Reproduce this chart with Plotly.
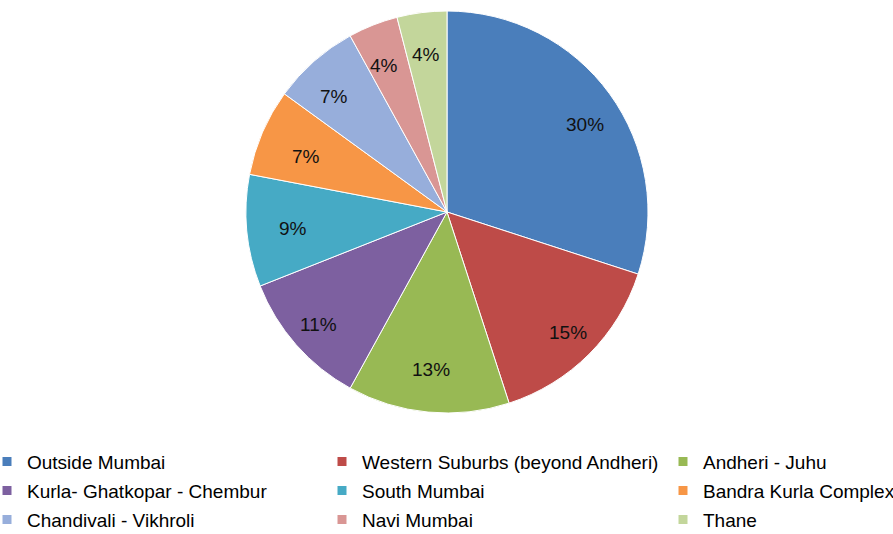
import math
import plotly.graph_objects as go

# Share of respondents by location
locations = [
    "Outside Mumbai",
    "Western Suburbs (beyond Andheri)",
    "Andheri - Juhu",
    "Kurla- Ghatkopar - Chembur",
    "South Mumbai",
    "Bandra Kurla Complex",
    "Chandivali - Vikhroli",
    "Navi Mumbai",
    "Thane",
]
shares = [30, 15, 13, 11, 9, 7, 7, 4, 4]
colors = [
    "#4A7EBB", "#BE4B48", "#98B954", "#7D60A0", "#46AAC5",
    "#F79646", "#97AEDB", "#D99694", "#C3D69B",
]

W, H = 893, 534
cx, cy, r = 447, 212, 201          # pie centre and radius in pixels
label_ratio = 0.85                  # labels sit near the rim, as in Excel
font = "Liberation Sans, Arial, sans-serif"

fig = go.Figure()
fig.add_trace(
    go.Pie(
        labels=locations,
        values=shares,
        sort=False,
        direction="clockwise",
        rotation=0,
        marker=dict(colors=colors, line=dict(color="#FFFFFF", width=1)),
        textinfo="none",
        showlegend=False,
        domain=dict(
            x=[(cx - r) / W, (cx + r) / W],
            y=[1 - (cy + r) / H, 1 - (cy - r) / H],
        ),
        hoverinfo="label+percent",
    )
)

# percentage labels placed at each slice's mid-angle
total = sum(shares)
cum = 0
for v in shares:
    theta = 2 * math.pi * (cum + v / 2) / total
    cum += v
    px = cx + label_ratio * r * math.sin(theta)
    py = cy - label_ratio * r * math.cos(theta)
    fig.add_annotation(
        x=px / W, y=1 - py / H, xref="paper", yref="paper",
        text=f"{v}%", showarrow=False,
        font=dict(family=font, size=19, color="#111111"),
    )

# three-column legend: entries run across the rows, left to right
legend_ids = ["legend", "legend2", "legend3"]
for i, (name, col) in enumerate(zip(locations, colors)):
    fig.add_trace(
        go.Scatter(
            x=[None], y=[None], mode="markers",
            name=f"<span style='font-size:19px'>{name}</span>",
            marker=dict(symbol="square", size=9, color=col),
            legend=legend_ids[i % 3], showlegend=True, hoverinfo="skip",
        )
    )

# 20px line height keeps the rows 29px apart; entry text is drawn at 19px
legend_common = dict(
    orientation="v", xanchor="left", yanchor="top", y=1 - 442 / H,
    font=dict(family=font, size=20, color="#000000"),
    bgcolor="rgba(0,0,0,0)", borderwidth=0, tracegroupgap=0,
)
text_starts = [27, 362, 703]
fig.update_layout(
    width=W,
    height=H,
    margin=dict(l=0, r=0, t=0, b=0, autoexpand=False),
    paper_bgcolor="#FFFFFF",
    plot_bgcolor="#FFFFFF",
    xaxis=dict(visible=False),
    yaxis=dict(visible=False),
    legend=dict(x=(text_starts[0] - 40) / W, **legend_common),
    legend2=dict(x=(text_starts[1] - 40) / W, **legend_common),
    legend3=dict(x=(text_starts[2] - 40) / W, **legend_common),
)

fig.write_html("out.html")
